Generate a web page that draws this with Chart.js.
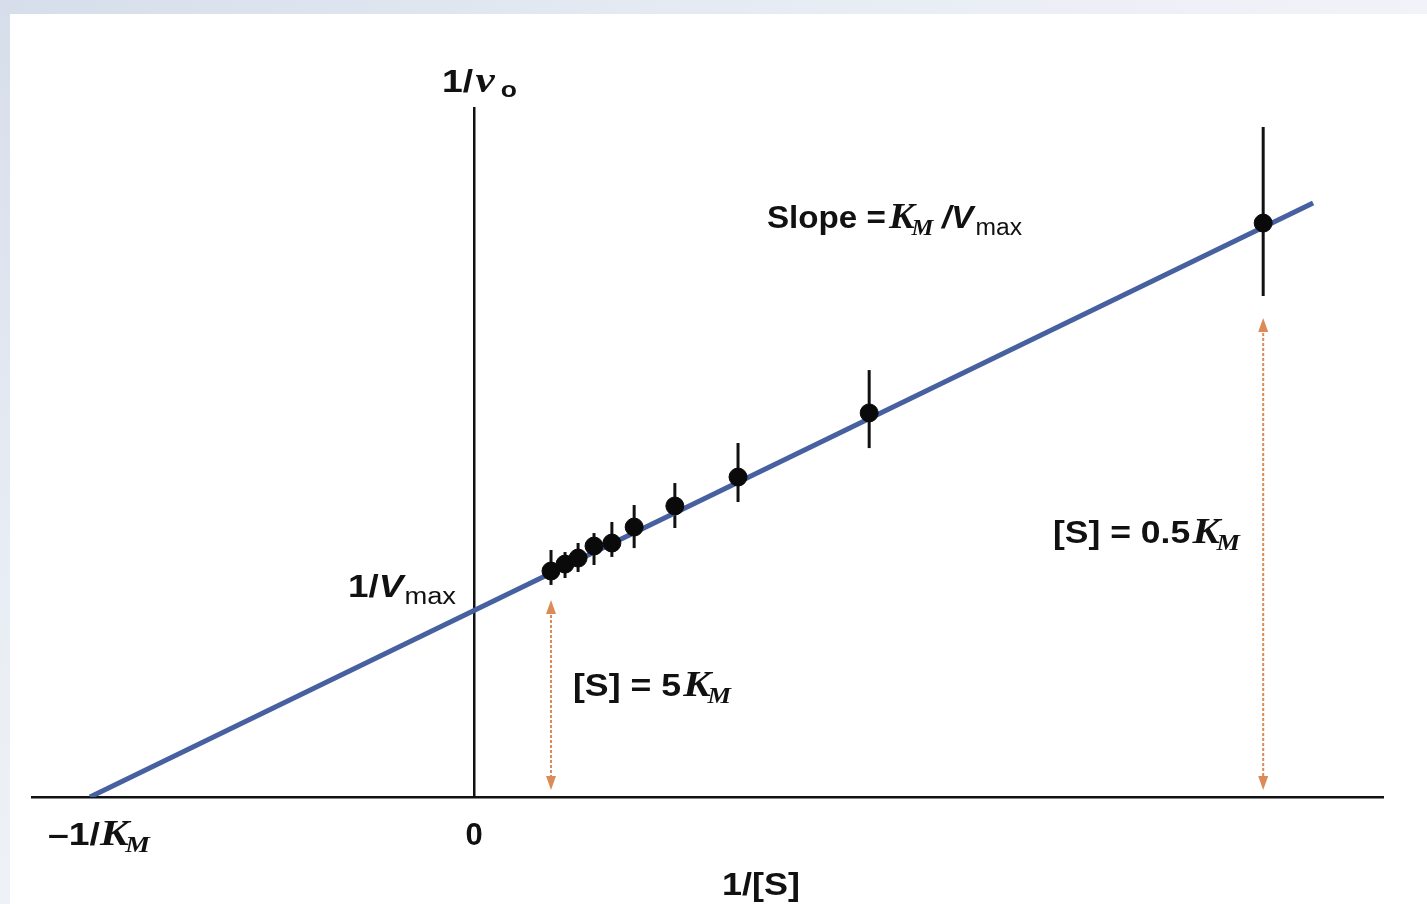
<!DOCTYPE html>
<html>
<head>
<meta charset="utf-8">
<script src="https://cdn.jsdelivr.net/npm/chart.js@4.4.1/dist/chart.umd.min.js"></script>
<style>
  html, body { margin: 0; padding: 0; background: #ffffff; }
  #wrap { position: relative; width: 1427px; height: 904px; overflow: hidden; background: #ffffff; }
  #topband { position: absolute; left: 0; top: 0; width: 1427px; height: 14px;
    background: linear-gradient(to right, #d6deeb, #e6ebf3 50%, #f1f3f8); }
  #leftband { position: absolute; left: 0; top: 0; width: 10px; height: 904px;
    background: linear-gradient(to bottom, #d6deeb, #e8ecf4 60%, #eef1f6); }
  canvas { position: absolute; left: 0; top: 0; }
</style>
</head>
<body>
<div id="wrap">
  <div id="topband"></div>
  <div id="leftband"></div>
  <canvas id="c" width="1427" height="904"></canvas>
</div>
<script>
// ---- Data (1/[S] in units of 1/K_M, 1/v0 in units of 1/Vmax) ----
const xValues  = [0.2005, 0.237, 0.271, 0.3125, 0.359, 0.417, 0.523, 0.6875, 1.029, 2.055];
const yValues  = [1.202, 1.239, 1.271, 1.335, 1.351, 1.436, 1.548, 1.702, 2.043, 3.053];
const yLow     = [1.128, 1.165, 1.197, 1.234, 1.277, 1.324, 1.431, 1.569, 1.856, 2.665];
const yHigh    = [1.314, 1.303, 1.351, 1.404, 1.463, 1.553, 1.670, 1.883, 2.271, 3.564];
const lineX    = [-1, 2.185];
const lineY    = [0, 3.16];
const arrowX      = [0.2005, 2.055];
const arrowTop    = [1.048, 2.548];
const arrowBottom = [0.037, 0.037];
const xTickValues = [-1, 0];
const yTickValues = [1];

const SANS = '"Liberation Sans", Arial, sans-serif';
const SERIF = '"Liberation Serif", "Times New Roman", serif';
const F = {
  sansB: 'bold 31px ' + SANS,
  sansBI: 'bold italic 31px ' + SANS,
  sub: '23px ' + SANS,
  subB: 'bold 22px ' + SANS,
  serBI: 'bold italic 36px ' + SERIF,
  subSerBI: 'bold italic 23px ' + SERIF
};

function runsWidth(ctx, runs) {
  let w = 0;
  for (const r of runs) { ctx.font = r.f; w += ctx.measureText(r.t).width + (r.gap || 0); }
  return w;
}
// draws runs starting at x (or centred), optionally stretched to a target width
function drawRuns(ctx, runs, x, y, align, targetW) {
  const w = runsWidth(ctx, runs);
  const s = targetW ? targetW / w : 1;
  let start = x;
  if (align === 'center') start = x - w * s / 2;
  else if (align === 'right') start = x - w * s;
  ctx.save();
  ctx.translate(start, y);
  ctx.scale(s, 1);
  ctx.fillStyle = '#111111';
  ctx.textBaseline = 'alphabetic';
  ctx.textAlign = 'left';
  let cx = 0;
  for (const r of runs) {
    ctx.font = r.f;
    ctx.fillText(r.t, cx, (r.dy || 0));
    cx += ctx.measureText(r.t).width + (r.gap || 0);
  }
  ctx.restore();
}

const KM = [{t: 'K', f: F.serBI, gap: -3}, {t: 'M', f: F.subSerBI, dy: 7}];

const extrasPlugin = {
  id: 'extras',
  beforeDatasetsDraw(chart) {
    const {ctx, scales: {x, y}} = chart;
    ctx.save();
    ctx.strokeStyle = '#111111';
    ctx.lineWidth = 3;
    for (let i = 0; i < xValues.length; i++) {
      const px = x.getPixelForValue(xValues[i]);
      ctx.beginPath();
      ctx.moveTo(px, y.getPixelForValue(yLow[i]));
      ctx.lineTo(px, y.getPixelForValue(yHigh[i]));
      ctx.stroke();
    }
    ctx.restore();
  },
  afterDatasetsDraw(chart) {
    const {ctx, scales: {x, y}} = chart;
    ctx.save();
    // orange double arrows
    ctx.strokeStyle = '#dc8a58';
    ctx.fillStyle = '#dc8a58';
    for (let i = 0; i < arrowX.length; i++) {
      const px = x.getPixelForValue(arrowX[i]);
      const pt = y.getPixelForValue(arrowTop[i]);
      const pb = y.getPixelForValue(arrowBottom[i]);
      ctx.lineWidth = 2;
      ctx.setLineDash([3, 2]);
      ctx.beginPath();
      ctx.moveTo(px, pt + 10);
      ctx.lineTo(px, pb - 10);
      ctx.stroke();
      ctx.setLineDash([]);
      ctx.beginPath();
      ctx.moveTo(px, pt); ctx.lineTo(px - 5, pt + 14); ctx.lineTo(px + 5, pt + 14); ctx.closePath(); ctx.fill();
      ctx.beginPath();
      ctx.moveTo(px, pb); ctx.lineTo(px - 5, pb - 14); ctx.lineTo(px + 5, pb - 14); ctx.closePath(); ctx.fill();
    }
    const x0 = x.getPixelForValue(0);
    const yB = y.getPixelForValue(0);
    // y-axis title 1/v0
    drawRuns(ctx, [{t: '1/', f: F.sansB, gap: 2}, {t: 'v', f: F.serBI, gap: 5}, {t: 'o', f: F.subB, dy: 5}], x0 - 32, y.top - 16, 'left', 75);
    // x tick labels
    drawRuns(ctx, [{t: '0', f: F.sansB}], x.getPixelForValue(xTickValues[1]), yB + 48, 'center');
    drawRuns(ctx, [{t: '\u20131/', f: F.sansB}].concat(KM), x.getPixelForValue(xTickValues[0]) - 42, yB + 48, 'left', 102);
    // y tick label 1/Vmax
    drawRuns(ctx, [{t: '1/', f: F.sansB}, {t: 'V', f: F.sansBI, gap: 1}, {t: 'max', f: F.sub, dy: 7}], x0 - 18, y.getPixelForValue(yTickValues[0]) - 12, 'right', 108);
    // x-axis title
    drawRuns(ctx, [{t: '1/[S]', f: F.sansB}], 761, yB + 98, 'center', 78);
    // slope annotation
    drawRuns(ctx, [{t: 'Slope =', f: F.sansB, gap: 3},
                   {t: 'K', f: F.serBI, gap: -3}, {t: 'M', f: F.subSerBI, dy: 7, gap: 8},
                   {t: '/V', f: F.sansBI, gap: 2}, {t: 'max', f: F.sub, dy: 7}], 767, 228, 'left', 255);
    // [S] annotations
    drawRuns(ctx, [{t: '[S] = 0.5', f: F.sansB, gap: 2}].concat(KM), 1053, 543, 'left', 187);
    drawRuns(ctx, [{t: '[S] = 5', f: F.sansB, gap: 2}].concat(KM), 573, 696, 'left', 158);
    ctx.restore();
  }
};

const ctx = document.getElementById('c').getContext('2d');
new Chart(ctx, {
  type: 'scatter',
  data: {
    datasets: [
      {
        label: 'data',
        data: xValues.map((v, i) => ({x: v, y: yValues[i]})),
        backgroundColor: '#0a0a0a',
        borderColor: '#0a0a0a',
        pointRadius: 9,
        pointHoverRadius: 9,
        showLine: false,
        order: 0
      },
      {
        label: 'fit',
        data: lineX.map((v, i) => ({x: v, y: lineY[i]})),
        borderColor: '#4660a0',
        borderWidth: 5,
        pointRadius: 0,
        showLine: true,
        fill: false,
        order: 1
      }
    ]
  },
  options: {
    responsive: false,
    animation: false,
    events: [],
    layout: { padding: { left: 32, right: 44, top: 108, bottom: 107 } },
    plugins: { legend: { display: false }, tooltip: { enabled: false }, title: { display: false } },
    scales: {
      x: {
        type: 'linear', min: -1.151, max: 2.367,
        grid: { display: false, drawTicks: false },
        ticks: { display: false },
        border: { display: true, color: '#111111', width: 2.5 },
        afterFit(s) { s.height = 0; }
      },
      y: {
        type: 'linear', min: 0, max: 3.665,
        position: { x: 0 },
        grid: { display: false, drawTicks: false },
        ticks: { display: false },
        border: { display: true, color: '#111111', width: 2.5 },
        afterFit(s) { s.width = 0; }
      }
    }
  },
  plugins: [extrasPlugin]
});
</script>
</body>
</html>
